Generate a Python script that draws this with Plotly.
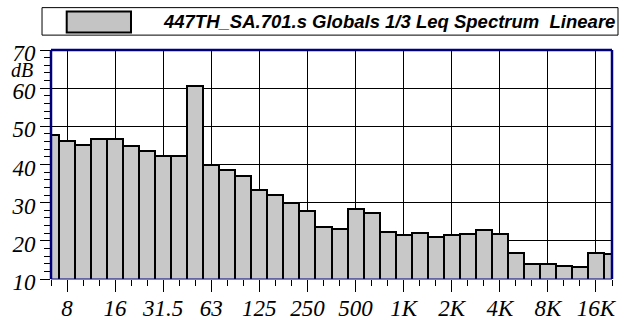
import plotly.graph_objects as go

# 1/3-octave band centres (Hz) and measured Leq levels (dB)
bands = ["6.3", "8", "10", "12.5", "16", "20", "25", "31.5", "40", "50", "63", "80",
         "100", "125", "160", "200", "250", "315", "400", "500", "630", "800",
         "1K", "1.25K", "1.6K", "2K", "2.5K", "3.15K", "4K", "5K", "6.3K", "8K",
         "10K", "12.5K", "16K", "20K"]
levels = [47.7, 46.1, 45.2, 46.6, 46.7, 44.9, 43.6, 42.3, 42.2, 60.5, 40.0, 38.6,
          36.9, 33.3, 32.1, 30.0, 27.8, 23.7, 23.2, 28.4, 27.2, 22.2,
          21.4, 22.0, 20.9, 21.4, 21.7, 22.9, 21.9, 16.7, 14.0, 13.9,
          13.5, 13.2, 16.7, 16.6]
octave_labels = ["8", "16", "31.5", "63", "125", "250", "500", "1K", "2K", "4K", "8K", "16K"]
db_ticks = [10, 20, 30, 40, 50, 60, 70]
series_name = "447TH_SA.701.s Globals 1/3 Leq Spectrum  Lineare"

idx = list(range(len(bands)))
octave_idx = [bands.index(l) for l in octave_labels]

serif = dict(family="Liberation Serif, Times New Roman, serif", size=23,
             color="black", style="italic")
navy = "#00007f"
bar_grey = "#c4c4c4"

fig = go.Figure()
fig.add_trace(go.Bar(
    x=idx, y=levels, width=1, name=series_name,
    marker=dict(color=bar_grey, line=dict(color="black", width=2),
                pattern=dict(shape=".", fgcolor="#a8a8a8", bgcolor="#cfcfcf",
                             size=2, solidity=0.4)),
    showlegend=False,
))

fig.update_layout(
    width=621, height=322,
    margin=dict(l=51, r=9, t=50, b=43),
    paper_bgcolor="white", plot_bgcolor="white",
    bargap=0,
    xaxis=dict(
        range=[0, len(bands) - 1], tickmode="array", tickvals=octave_idx,
        ticktext=[f"<i>{t}</i>" for t in octave_labels],
        ticks="outside", ticklen=12, tickcolor="black",
        tickwidth=1, showgrid=True, gridcolor="black", gridwidth=1,
        tickfont=serif, zeroline=False, showline=False, ticklabelstandoff=-4,
        automargin=False,
        minor=dict(tickmode="linear", tick0=0, dtick=1, ticks="outside",
                   ticklen=6, tickcolor="black", tickwidth=1, showgrid=False),
    ),
    yaxis=dict(
        range=[10, 70], tickmode="array", tickvals=db_ticks,
        ticktext=[f"<i>{v}</i>" for v in db_ticks],
        ticks="outside", ticklen=10, tickcolor="black",
        tickwidth=1, showgrid=True, gridcolor="black", gridwidth=1,
        tickfont=serif, zeroline=False, showline=False, ticklabelstandoff=0,
        ticklabelshift=3, automargin=False,
        minor=dict(tickmode="linear", tick0=10, dtick=2, ticks="outside",
                   ticklen=6, tickcolor="black", tickwidth=1, showgrid=False),
    ),
)

# plot frame: heavy left/top/right edges, thin baseline
for x0, y0, x1, y1, w in [(0, 0, 0, 1, 2.5), (0, 1, 1, 1, 2.5), (1, 0, 1, 1, 2.5),
                          (0, 0, 1, 0, 1)]:
    fig.add_shape(type="line", xref="paper", yref="paper", x0=x0, y0=y0, x1=x1, y1=y1,
                  line=dict(color=navy, width=w), layer="above")

# unit label
fig.add_annotation(text="<i>dB</i>", xref="paper", yref="paper", x=-0.052, y=0.912,
                   showarrow=False, font=dict(serif, size=20),
                   xanchor="center", yanchor="middle")

# legend box with swatch and series title
fig.add_shape(type="rect", xref="paper", yref="paper", x0=-0.016, x1=1.0107,
              y0=1.065, y1=1.185, line=dict(color="black", width=1),
              fillcolor="white")
fig.add_shape(type="rect", xref="paper", yref="paper", x0=0.028, x1=0.1426,
              y0=1.076, y1=1.168, line=dict(color="black", width=2),
              fillcolor=bar_grey)
fig.add_annotation(text=f"<b><i>{series_name}</i></b>", xref="paper", yref="paper",
                   x=0.196, y=1.125, xanchor="left", yanchor="middle", showarrow=False,
                   font=dict(family="Liberation Sans", size=18.5, color="black"))

fig.write_html("out.html")
